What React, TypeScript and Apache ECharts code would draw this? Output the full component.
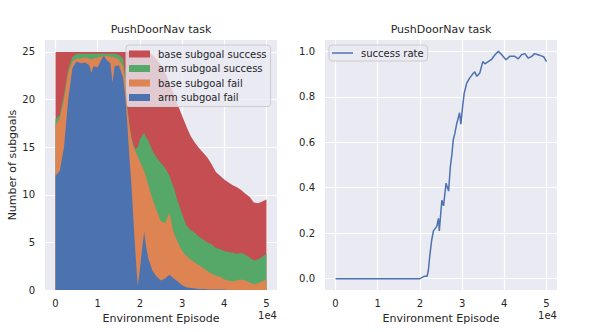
import React, { useEffect, useRef } from 'react';
import * as echarts from 'echarts';

// Environment episode (x values) for the stacked subgoal plot
const episodes = [
  0, 1000, 2000, 3000, 4000, 5000, 6000, 7000, 8000, 8500, 9000, 10000, 11000, 11500,
  12000, 13000, 13500, 14000, 15000, 16000, 16500, 17000, 17500, 18000, 18500, 19000,
  19500, 20000, 20500, 21000, 21500, 22000, 23000, 24000, 25000, 26000, 27000, 28000,
  29000, 30000, 31000, 32000, 33000, 34000, 35000, 36000, 37000, 38000, 39000, 40000,
  41000, 42000, 43000, 44000, 45000, 46000, 47000, 48000, 49000, 50000,
];

const armSubgoalFail = [
  12.0, 12.5, 15.0, 20.0, 23.3, 24.0, 23.8, 23.9, 23.6, 22.8, 23.5, 23.4, 24.3, 24.6,
  24.2, 23.8, 21.8, 23.5, 23.6, 22.3, 20.5, 17.5, 14.0, 11.0, 7.0, 3.5,
  0.4, 2.2, 4.2, 6.1, 4.5, 3.3, 2.0, 1.4, 1.0, 1.2, 1.6, 1.2,
  0.9, 0.5, 0.3, 0.2, 0.15, 0.1, 0.1, 0.05, 0.05, 0.05, 0.05, 0.05,
  0, 0, 0, 0, 0, 0, 0, 0, 0, 0,
];

const baseSubgoalFail = [
  5.3, 5.5, 5.0, 2.8, 0.7, 0.3, 0.5, 0.5, 0.7, 1.4, 0.8, 1.0, 0.2, 0.0,
  0.4, 0.7, 2.7, 0.9, 0.6, 1.2, 1.5, 1.5, 3.2, 4.8, 8.0, 11.0,
  13.6, 11.3, 8.8, 6.4, 7.3, 7.7, 7.5, 6.9, 6.2, 5.8, 6.5, 4.8,
  4.1, 3.6, 3.3, 3.0, 2.75, 2.5, 2.2, 1.95, 1.65, 1.45, 1.35, 1.05,
  1.0, 0.9, 1.0, 1.1, 1.0, 0.8, 0.6, 0.7, 0.9, 1.1,
];

const armSubgoalSuccess = [
  0.6, 0.4, 0.5, 0.4, 0.5, 0.5, 0.5, 0.4, 0.5, 0.6, 0.5, 0.4, 0.3, 0.2,
  0.2, 0.3, 0.3, 0.4, 0.5, 0.8, 0.6, 0.3, 0.2, 0.2, 0.2, 0.3,
  1.0, 2.3, 3.2, 4.0, 4.2, 4.7, 5.1, 5.6, 6.1, 5.8, 3.9, 4.8,
  4.3, 3.9, 3.2, 3.1, 3.1, 3.0, 3.0, 3.0, 3.1, 2.9, 2.9, 3.0,
  3.0, 3.0, 2.8, 2.8, 2.7, 2.6, 2.5, 2.5, 2.6, 2.7,
];

const baseSubgoalSuccess = [
  7.1, 6.6, 4.5, 1.8, 0.5, 0.2, 0.2, 0.2, 0.2, 0.2, 0.2, 0.2, 0.2, 0.2,
  0.2, 0.2, 0.2, 0.2, 0.3, 0.7, 2.4, 5.7, 7.6, 9.0, 9.8, 10.2,
  10.0, 9.2, 8.8, 8.5, 9.0, 9.3, 10.1, 10.3, 10.3, 10.0, 9.8, 9.8,
  10.1, 10.3, 10.4, 9.9, 9.5, 9.3, 9.1, 8.9, 8.4, 8.0, 7.7, 7.5,
  7.3, 7.1, 7.0, 6.6, 6.4, 6.4, 6.1, 5.9, 5.8, 5.7,
];

// Success rate curve
const rateEpisodes = [
  0, 20000, 21000, 21700, 22000, 22400, 22800, 23200, 23600, 24000, 24400, 24600,
  25200, 25600, 26200, 26800, 27200, 27600, 27900, 28300, 28700, 29400, 29700, 30200,
  30500, 31100, 31700, 32500, 33000, 33500, 34200, 34900, 35400, 36200, 37000, 37800,
  38600, 39400, 40400, 41300, 42500, 43300, 44100, 44900, 45700, 46500, 47200, 48000,
  48800, 49400, 50000,
];
const successRate = [
  0, 0, 0.01, 0.01, 0.037, 0.11, 0.17, 0.21, 0.22, 0.23, 0.265, 0.21,
  0.345, 0.32, 0.42, 0.385, 0.49, 0.55, 0.61, 0.64, 0.68, 0.73, 0.68, 0.77,
  0.815, 0.86, 0.88, 0.9, 0.91, 0.89, 0.905, 0.955, 0.945, 0.955, 0.965, 0.985,
  1.0, 0.985, 0.963, 0.978, 0.978, 0.967, 0.985, 0.99, 0.97, 0.978, 0.99, 0.985,
  0.98, 0.975, 0.955,
];

const leftTitle = 'PushDoorNav task';
const rightTitle = 'PushDoorNav task';
const xName = 'Environment Episode';
const yNameLeft = 'Number of subgoals';
const offsetText = '1e4';

const FONT = 'DejaVu Sans';
const TXT = '#262626';
const BG = '#EAEAF2';
const COLORS = {
  blue: '#4C72B0',
  orange: '#DD8452',
  green: '#55A868',
  red: '#C44E52',
};

function xAxisCfg(gridIndex: number) {
  return {
    type: 'value',
    gridIndex,
    min: -2500,
    max: 52500,
    splitNumber: 5,
    axisLine: { show: false },
    axisTick: { show: false },
    axisLabel: {
      color: TXT,
      fontSize: 10,
      fontFamily: FONT,
      margin: 8,
      showMinLabel: false,
      showMaxLabel: false,
      formatter: (v: number) => (Math.abs(v % 10000) < 1e-6 ? String(v / 10000) : ''),
    },
    splitLine: { show: true, showMinLine: false, showMaxLine: false, lineStyle: { color: '#ffffff', width: 1.2 } },
    name: xName,
    nameLocation: 'middle',
    nameGap: 21,
    nameTextStyle: { color: TXT, fontSize: 11, fontFamily: FONT },
  };
}

export default function App() {
  const ref = useRef<HTMLDivElement>(null);

  useEffect(() => {
    if (!ref.current) return;
    const chart = echarts.init(ref.current, null, { renderer: 'svg' });

    // cumulative tops of each layer (stackplot: blue bottom, then orange, green, red)
    const layers = [armSubgoalFail, baseSubgoalFail, armSubgoalSuccess, baseSubgoalSuccess];
    const cum = layers.map((_, li) =>
      episodes.map((_, i) => {
        let s = 0;
        for (let k = 0; k <= li; k++) s += layers[k][i];
        return +s.toFixed(3);
      })
    );

    const areaSeries = (name: string, tops: number[], color: string, z: number) => ({
      name,
      type: 'line',
      xAxisIndex: 0,
      yAxisIndex: 0,
      symbol: 'none',
      showSymbol: false,
      z,
      color,
      itemStyle: { color },
      lineStyle: { width: 0, color },
      areaStyle: { color, opacity: 1, origin: 'start' },
      data: episodes.map((x, i) => [x, tops[i]]),
    });

    const legendCommon = {
      orient: 'vertical',
      selectedMode: false,
      backgroundColor: 'rgba(234,234,242,0.8)',
      borderColor: '#cccccc',
      borderWidth: 1,
      borderRadius: 3,
      itemGap: 4.5,
      textStyle: { color: TXT, fontSize: 10, fontFamily: FONT, padding: [0, 0, 0, 3] },
    };

    const option: any = {
      animation: false,
      textStyle: { fontFamily: FONT },
      title: [
        {
          text: leftTitle,
          left: 161,
          top: 24,
          textAlign: 'center',
          padding: 0,
          textStyle: { color: TXT, fontSize: 11, fontWeight: 'normal', fontFamily: FONT },
        },
        {
          text: rightTitle,
          left: 441,
          top: 24,
          textAlign: 'center',
          padding: 0,
          textStyle: { color: TXT, fontSize: 11, fontWeight: 'normal', fontFamily: FONT },
        },
      ],
      grid: [
        { left: 45, top: 40, width: 232, height: 250, show: true, backgroundColor: BG, borderWidth: 0 },
        { left: 325, top: 40, width: 232, height: 250, show: true, backgroundColor: BG, borderWidth: 0 },
      ],
      xAxis: [xAxisCfg(0), xAxisCfg(1)],
      yAxis: [
        {
          type: 'value',
          gridIndex: 0,
          min: 0,
          max: 26.25,
          splitNumber: 5,
          axisLine: { show: false },
          axisTick: { show: false },
          axisLabel: {
            color: TXT,
            fontSize: 10,
            fontFamily: FONT,
            margin: 10,
            showMaxLabel: false,
            formatter: (v: number) => (Math.abs(v % 5) < 1e-6 ? String(v) : ''),
          },
          splitLine: { show: true, showMinLine: false, showMaxLine: false, lineStyle: { color: '#ffffff', width: 1.2 } },
          name: yNameLeft,
          nameLocation: 'middle',
          nameGap: 25,
          nameTextStyle: { color: TXT, fontSize: 11, fontFamily: FONT },
        },
        {
          type: 'value',
          gridIndex: 1,
          min: -0.05,
          max: 1.05,
          splitNumber: 5,
          axisLine: { show: false },
          axisTick: { show: false },
          axisLabel: {
            color: TXT,
            fontSize: 10,
            fontFamily: FONT,
            margin: 10,
            showMinLabel: false,
            showMaxLabel: false,
            formatter: (v: number) =>
              Math.abs(v * 5 - Math.round(v * 5)) < 1e-6 ? v.toFixed(1) : '',
          },
          splitLine: { show: true, showMinLine: false, showMaxLine: false, lineStyle: { color: '#ffffff', width: 1.2 } },
        },
      ],
      legend: [
        {
          ...legendCommon,
          left: 126,
          top: 45,
          padding: [4, 4, 4, 3],
          itemWidth: 21,
          itemHeight: 7,
          data: [
            { name: 'base subgoal success', icon: 'rect' },
            { name: 'arm subgoal success', icon: 'rect' },
            { name: 'base subgoal fail', icon: 'rect' },
            { name: 'arm subgoal fail', icon: 'rect' },
          ],
        },
        {
          ...legendCommon,
          left: 329,
          top: 45,
          padding: [3, 4, 3, 3],
          itemWidth: 21,
          itemHeight: 1.5,
          data: [{ name: 'success rate', icon: 'rect', itemStyle: { color: COLORS.blue } }],
        },
      ],
      graphic: [
        {
          type: 'text',
          right: 598 - 277,
          top: 310,
          style: { text: offsetText, fill: TXT, font: `10px "${FONT}"`, textAlign: 'right' },
        },
        {
          type: 'text',
          right: 598 - 557,
          top: 310,
          style: { text: offsetText, fill: TXT, font: `10px "${FONT}"`, textAlign: 'right' },
        },
      ],
      series: [
        areaSeries('base subgoal success', cum[3], COLORS.red, 2),
        areaSeries('arm subgoal success', cum[2], COLORS.green, 3),
        areaSeries('base subgoal fail', cum[1], COLORS.orange, 4),
        areaSeries('arm subgoal fail', cum[0], COLORS.blue, 5),
        {
          name: 'success rate',
          type: 'line',
          xAxisIndex: 1,
          yAxisIndex: 1,
          symbol: 'none',
          showSymbol: false,
          color: COLORS.blue,
          itemStyle: { color: COLORS.blue },
          lineStyle: { color: COLORS.blue, width: 1.5 },
          data: rateEpisodes.map((x, i) => [x, successRate[i]]),
        },
      ],
    };

    chart.setOption(option);
    return () => chart.dispose();
  }, []);

  return (
    <div
      ref={ref}
      style={{ position: 'absolute', left: 0, top: 0, width: 598, height: 332 }}
    />
  );
}
